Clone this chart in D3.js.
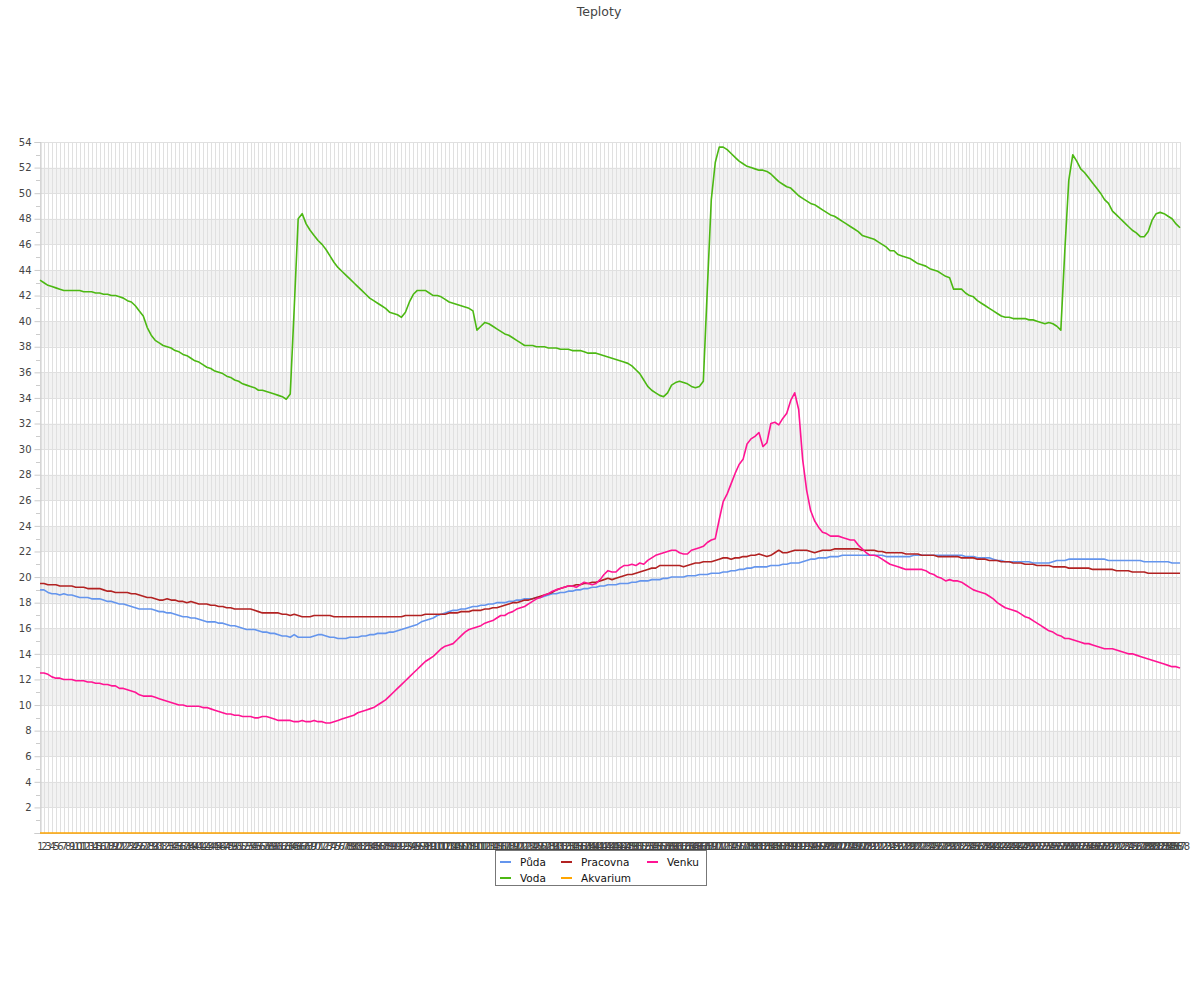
<!DOCTYPE html>
<html>
<head>
<meta charset="utf-8">
<script src="https://cdn.jsdelivr.net/npm/d3@7"></script>
<style>
  html, body { margin: 0; padding: 0; background: #fff; }
  svg { display: block; font-family: "DejaVu Sans", sans-serif; }
</style>
</head>
<body>
<svg id="chart" width="1200" height="1000"></svg>
<script>
// ---------------- DATA ----------------
const title = "Teploty";
const seriesNames = ["Půda", "Voda", "Pracovna", "Akvarium", "Venku"];
const seriesColors = ["#6495ed", "#4cb813", "#b22222", "#ffa500", "#ff1493"];
const yTickValues = [0, 2, 4, 6, 8, 10, 12, 14, 16, 18, 20, 22, 24, 26, 28, 30, 32, 34, 36, 38, 40, 42, 44, 46, 48, 50, 52, 54];
const yMinorTicks = [1, 3, 5, 7, 9, 11, 13, 15, 17, 19, 21, 23, 25, 27, 29, 31, 33, 35, 37, 39, 41, 43, 45, 47, 49, 51, 53];
const yBandStarts = [2, 6, 10, 14, 18, 22, 26, 30, 34, 38, 42, 46, 50];

const puda = [
  19.0, 19.0, 18.8, 18.7, 18.7, 18.6, 18.7, 18.6, 18.6, 18.5,
  18.4, 18.4, 18.4, 18.3, 18.3, 18.3, 18.2, 18.1, 18.1, 18.0,
  17.9, 17.9, 17.8, 17.7, 17.6, 17.5, 17.5, 17.5, 17.5, 17.4,
  17.3, 17.3, 17.2, 17.2, 17.1, 17.0, 16.9, 16.9, 16.8, 16.8,
  16.7, 16.6, 16.5, 16.5, 16.5, 16.4, 16.4, 16.3, 16.2, 16.2,
  16.1, 16.0, 15.9, 15.9, 15.9, 15.8, 15.7, 15.7, 15.6, 15.6,
  15.5, 15.4, 15.4, 15.3, 15.5, 15.3, 15.3, 15.3, 15.3, 15.4,
  15.5, 15.5, 15.4, 15.3, 15.3, 15.2, 15.2, 15.2, 15.3, 15.3,
  15.3, 15.4, 15.4, 15.5, 15.5, 15.6, 15.6, 15.6, 15.7, 15.7,
  15.8, 15.9, 16.0, 16.1, 16.2, 16.3, 16.5, 16.6, 16.7, 16.8,
  17.0, 17.1, 17.2, 17.3, 17.4, 17.4, 17.5, 17.5, 17.6, 17.7,
  17.7, 17.8, 17.8, 17.9, 17.9, 18.0, 18.0, 18.0, 18.1, 18.1,
  18.2, 18.2, 18.3, 18.3, 18.3, 18.4, 18.4, 18.5, 18.6, 18.7,
  18.7, 18.8, 18.8, 18.9, 18.9, 19.0, 19.0, 19.1, 19.1, 19.2,
  19.2, 19.3, 19.3, 19.4, 19.4, 19.4, 19.5, 19.5, 19.5, 19.6,
  19.6, 19.7, 19.7, 19.7, 19.8, 19.8, 19.8, 19.9, 19.9, 20.0,
  20.0, 20.0, 20.0, 20.1, 20.1, 20.1, 20.2, 20.2, 20.2, 20.3,
  20.3, 20.3, 20.4, 20.4, 20.5, 20.5, 20.6, 20.6, 20.7, 20.7,
  20.8, 20.8, 20.8, 20.8, 20.9, 20.9, 20.9, 21.0, 21.0, 21.1,
  21.1, 21.1, 21.2, 21.3, 21.4, 21.4, 21.5, 21.5, 21.5, 21.6,
  21.6, 21.6, 21.7, 21.7, 21.7, 21.7, 21.7, 21.7, 21.7, 21.7,
  21.7, 21.7, 21.7, 21.6, 21.6, 21.6, 21.6, 21.6, 21.6, 21.6,
  21.7, 21.7, 21.7, 21.7, 21.7, 21.7, 21.7, 21.7, 21.7, 21.7,
  21.7, 21.7, 21.7, 21.6, 21.6, 21.6, 21.5, 21.5, 21.5, 21.5,
  21.4, 21.3, 21.3, 21.2, 21.2, 21.2, 21.2, 21.2, 21.2, 21.2,
  21.1, 21.1, 21.1, 21.1, 21.1, 21.2, 21.3, 21.3, 21.3, 21.4,
  21.4, 21.4, 21.4, 21.4, 21.4, 21.4, 21.4, 21.4, 21.4, 21.3,
  21.3, 21.3, 21.3, 21.3, 21.3, 21.3, 21.3, 21.3, 21.2, 21.2,
  21.2, 21.2, 21.2, 21.2, 21.2, 21.1, 21.1, 21.1
];

const voda = [
  43.2, 43.0, 42.8, 42.7, 42.6, 42.5, 42.4, 42.4, 42.4, 42.4,
  42.4, 42.3, 42.3, 42.3, 42.2, 42.2, 42.1, 42.1, 42.0, 42.0,
  41.9, 41.8, 41.6, 41.5, 41.2, 40.8, 40.4, 39.5, 38.9, 38.5,
  38.3, 38.1, 38.0, 37.9, 37.7, 37.6, 37.4, 37.3, 37.1, 36.9,
  36.8, 36.6, 36.4, 36.3, 36.1, 36.0, 35.9, 35.7, 35.6, 35.4,
  35.3, 35.1, 35.0, 34.9, 34.8, 34.6, 34.6, 34.5, 34.4, 34.3,
  34.2, 34.1, 33.9, 34.3, 41.0, 48.0, 48.4, 47.6, 47.1, 46.7,
  46.3, 46.0, 45.6, 45.1, 44.6, 44.2, 43.9, 43.6, 43.3, 43.0,
  42.7, 42.4, 42.1, 41.8, 41.6, 41.4, 41.2, 41.0, 40.7, 40.6,
  40.5, 40.3, 40.7, 41.5, 42.1, 42.4, 42.4, 42.4, 42.2, 42.0,
  42.0, 41.9, 41.7, 41.5, 41.4, 41.3, 41.2, 41.1, 41.0, 40.8,
  39.3, 39.6, 39.9, 39.8, 39.6, 39.4, 39.2, 39.0, 38.9, 38.7,
  38.5, 38.3, 38.1, 38.1, 38.1, 38.0, 38.0, 38.0, 37.9, 37.9,
  37.9, 37.8, 37.8, 37.8, 37.7, 37.7, 37.7, 37.6, 37.5, 37.5,
  37.5, 37.4, 37.3, 37.2, 37.1, 37.0, 36.9, 36.8, 36.7, 36.5,
  36.2, 35.9, 35.4, 34.9, 34.6, 34.4, 34.2, 34.1, 34.4, 35.0,
  35.2, 35.3, 35.2, 35.1, 34.9, 34.8, 34.9, 35.3, 42.5, 49.5,
  52.4, 53.6, 53.6, 53.4, 53.1, 52.8, 52.5, 52.3, 52.1, 52.0,
  51.9, 51.8, 51.8, 51.7, 51.5, 51.2, 50.9, 50.7, 50.5, 50.4,
  50.1, 49.8, 49.6, 49.4, 49.2, 49.1, 48.9, 48.7, 48.5, 48.3,
  48.2, 48.0, 47.8, 47.6, 47.4, 47.2, 47.0, 46.7, 46.6, 46.5,
  46.4, 46.2, 46.0, 45.8, 45.5, 45.5, 45.2, 45.1, 45.0, 44.9,
  44.7, 44.5, 44.4, 44.3, 44.1, 44.0, 43.9, 43.7, 43.5, 43.4,
  42.5, 42.5, 42.5, 42.2, 42.0, 41.9, 41.6, 41.4, 41.2, 41.0,
  40.8, 40.6, 40.4, 40.3, 40.3, 40.2, 40.2, 40.2, 40.2, 40.1,
  40.1, 40.0, 39.9, 39.8, 39.9, 39.8, 39.6, 39.3, 45.5, 51.0,
  53.0, 52.5, 51.9, 51.6, 51.2, 50.8, 50.4, 50.0, 49.5, 49.2,
  48.6, 48.3, 48.0, 47.7, 47.4, 47.1, 46.9, 46.6, 46.6, 47.0,
  47.9, 48.4, 48.5, 48.4, 48.2, 48.0, 47.6, 47.3
];

const pracovna = [
  19.5, 19.5, 19.4, 19.4, 19.4, 19.3, 19.3, 19.3, 19.3, 19.2,
  19.2, 19.2, 19.1, 19.1, 19.1, 19.1, 19.0, 18.9, 18.9, 18.8,
  18.8, 18.8, 18.8, 18.7, 18.7, 18.6, 18.5, 18.4, 18.4, 18.3,
  18.2, 18.2, 18.3, 18.2, 18.2, 18.1, 18.1, 18.0, 18.1, 18.0,
  17.9, 17.9, 17.9, 17.8, 17.8, 17.7, 17.7, 17.6, 17.6, 17.5,
  17.5, 17.5, 17.5, 17.5, 17.4, 17.3, 17.2, 17.2, 17.2, 17.2,
  17.2, 17.1, 17.1, 17.0, 17.1, 17.0, 16.9, 16.9, 16.9, 17.0,
  17.0, 17.0, 17.0, 17.0, 16.9, 16.9, 16.9, 16.9, 16.9, 16.9,
  16.9, 16.9, 16.9, 16.9, 16.9, 16.9, 16.9, 16.9, 16.9, 16.9,
  16.9, 16.9, 17.0, 17.0, 17.0, 17.0, 17.0, 17.1, 17.1, 17.1,
  17.1, 17.1, 17.1, 17.2, 17.2, 17.2, 17.3, 17.3, 17.3, 17.4,
  17.4, 17.4, 17.5, 17.5, 17.6, 17.6, 17.7, 17.8, 17.9, 18.0,
  18.0, 18.1, 18.2, 18.2, 18.3, 18.4, 18.5, 18.6, 18.7, 18.8,
  19.0, 19.1, 19.2, 19.3, 19.3, 19.4, 19.4, 19.5, 19.5, 19.6,
  19.6, 19.7, 19.8, 19.9, 19.8, 19.9, 20.0, 20.1, 20.2, 20.2,
  20.3, 20.4, 20.5, 20.6, 20.7, 20.7, 20.9, 20.9, 20.9, 20.9,
  20.9, 20.9, 20.8, 20.9, 21.0, 21.1, 21.1, 21.2, 21.2, 21.2,
  21.3, 21.4, 21.5, 21.5, 21.4, 21.5, 21.5, 21.6, 21.6, 21.7,
  21.7, 21.8, 21.7, 21.6, 21.7, 21.9, 22.1, 21.9, 21.9, 22.0,
  22.1, 22.1, 22.1, 22.1, 22.0, 21.9, 22.0, 22.1, 22.1, 22.1,
  22.2, 22.2, 22.2, 22.2, 22.2, 22.2, 22.2, 22.1, 22.1, 22.1,
  22.1, 22.0, 22.0, 21.9, 21.9, 21.9, 21.9, 21.9, 21.8, 21.8,
  21.8, 21.8, 21.7, 21.7, 21.7, 21.7, 21.6, 21.6, 21.6, 21.6,
  21.6, 21.6, 21.5, 21.5, 21.5, 21.5, 21.4, 21.4, 21.4, 21.3,
  21.3, 21.3, 21.2, 21.2, 21.2, 21.1, 21.1, 21.1, 21.0, 21.0,
  21.0, 20.9, 20.9, 20.9, 20.9, 20.8, 20.8, 20.8, 20.8, 20.7,
  20.7, 20.7, 20.7, 20.7, 20.7, 20.6, 20.6, 20.6, 20.6, 20.6,
  20.6, 20.5, 20.5, 20.5, 20.5, 20.4, 20.4, 20.4, 20.4, 20.3,
  20.3, 20.3, 20.3, 20.3, 20.3, 20.3, 20.3, 20.3
];

const akvarium = [
  0, 0, 0, 0, 0, 0, 0, 0, 0, 0,  0, 0, 0, 0, 0, 0, 0, 0, 0, 0,
  0, 0, 0, 0, 0, 0, 0, 0, 0, 0,  0, 0, 0, 0, 0, 0, 0, 0, 0, 0,
  0, 0, 0, 0, 0, 0, 0, 0, 0, 0,  0, 0, 0, 0, 0, 0, 0, 0, 0, 0,
  0, 0, 0, 0, 0, 0, 0, 0, 0, 0,  0, 0, 0, 0, 0, 0, 0, 0, 0, 0,
  0, 0, 0, 0, 0, 0, 0, 0, 0, 0,  0, 0, 0, 0, 0, 0, 0, 0, 0, 0,
  0, 0, 0, 0, 0, 0, 0, 0, 0, 0,  0, 0, 0, 0, 0, 0, 0, 0, 0, 0,
  0, 0, 0, 0, 0, 0, 0, 0, 0, 0,  0, 0, 0, 0, 0, 0, 0, 0, 0, 0,
  0, 0, 0, 0, 0, 0, 0, 0, 0, 0,  0, 0, 0, 0, 0, 0, 0, 0, 0, 0,
  0, 0, 0, 0, 0, 0, 0, 0, 0, 0,  0, 0, 0, 0, 0, 0, 0, 0, 0, 0,
  0, 0, 0, 0, 0, 0, 0, 0, 0, 0,  0, 0, 0, 0, 0, 0, 0, 0, 0, 0,
  0, 0, 0, 0, 0, 0, 0, 0, 0, 0,  0, 0, 0, 0, 0, 0, 0, 0, 0, 0,
  0, 0, 0, 0, 0, 0, 0, 0, 0, 0,  0, 0, 0, 0, 0, 0, 0, 0, 0, 0,
  0, 0, 0, 0, 0, 0, 0, 0, 0, 0,  0, 0, 0, 0, 0, 0, 0, 0, 0, 0,
  0, 0, 0, 0, 0, 0, 0, 0, 0, 0,  0, 0, 0, 0, 0, 0, 0, 0, 0, 0,
  0, 0, 0, 0, 0, 0, 0, 0
];

const venku = [
  12.5, 12.5, 12.4, 12.2, 12.1, 12.1, 12.0, 12.0, 12.0, 11.9,
  11.9, 11.9, 11.8, 11.8, 11.7, 11.7, 11.6, 11.6, 11.5, 11.5,
  11.3, 11.3, 11.2, 11.1, 11.0, 10.8, 10.7, 10.7, 10.7, 10.6,
  10.5, 10.4, 10.3, 10.2, 10.1, 10.0, 10.0, 9.9, 9.9, 9.9,
  9.9, 9.8, 9.8, 9.7, 9.6, 9.5, 9.4, 9.3, 9.3, 9.2,
  9.2, 9.1, 9.1, 9.1, 9.0, 9.0, 9.1, 9.1, 9.0, 8.9,
  8.8, 8.8, 8.8, 8.8, 8.7, 8.7, 8.8, 8.7, 8.7, 8.8,
  8.7, 8.7, 8.6, 8.6, 8.7, 8.8, 8.9, 9.0, 9.1, 9.2,
  9.4, 9.5, 9.6, 9.7, 9.8, 10.0, 10.2, 10.4, 10.7, 11.0,
  11.3, 11.6, 11.9, 12.2, 12.5, 12.8, 13.1, 13.4, 13.6, 13.8,
  14.1, 14.4, 14.6, 14.7, 14.8, 15.1, 15.4, 15.7, 15.9, 16.0,
  16.1, 16.2, 16.4, 16.5, 16.6, 16.8, 17.0, 17.0, 17.2, 17.3,
  17.5, 17.6, 17.7, 17.9, 18.1, 18.3, 18.4, 18.6, 18.7, 18.9,
  19.0, 19.1, 19.2, 19.3, 19.3, 19.2, 19.4, 19.6, 19.5, 19.4,
  19.5, 19.8, 20.2, 20.5, 20.4, 20.4, 20.7, 20.9, 20.9, 21.0,
  20.9, 21.1, 21.0, 21.3, 21.5, 21.7, 21.8, 21.9, 22.0, 22.1,
  22.1, 21.9, 21.8, 21.8, 22.1, 22.2, 22.3, 22.4, 22.7, 22.9,
  23.0, 24.5, 25.9, 26.5, 27.3, 28.1, 28.8, 29.2, 30.4, 30.8,
  31.0, 31.3, 30.2, 30.5, 32.0, 32.1, 31.9, 32.4, 32.8, 33.8,
  34.4, 33.1, 29.2, 26.8, 25.2, 24.4, 23.9, 23.5, 23.4, 23.2,
  23.2, 23.2, 23.1, 23.0, 22.9, 22.9, 22.5, 22.2, 21.9, 21.7,
  21.7, 21.6, 21.4, 21.2, 21.0, 20.9, 20.8, 20.7, 20.6, 20.6,
  20.6, 20.6, 20.6, 20.5, 20.3, 20.2, 20.0, 19.9, 19.7, 19.8,
  19.7, 19.7, 19.6, 19.4, 19.2, 19.0, 18.9, 18.8, 18.7, 18.5,
  18.3, 18.0, 17.8, 17.6, 17.5, 17.4, 17.3, 17.1, 16.9, 16.8,
  16.6, 16.4, 16.2, 16.0, 15.8, 15.7, 15.5, 15.4, 15.2, 15.2,
  15.1, 15.0, 14.9, 14.8, 14.8, 14.7, 14.6, 14.5, 14.4, 14.4,
  14.4, 14.3, 14.2, 14.1, 14.0, 14.0, 13.9, 13.8, 13.7, 13.6,
  13.5, 13.4, 13.3, 13.2, 13.1, 13.0, 13.0, 12.9
];

// categories 1..N (one label per sample)
const categories = puda.map((_, i) => String(i + 1));
const seriesValues = [puda, voda, pracovna, akvarium, venku];

// ---------------- LAYOUT ----------------
const svg = d3.select("#chart");
const plotLeft = 40, plotRight = 1180, plotTop = 142, plotBottom = 833;
const gridColor = "#e0e0e0";
const textColor = "#444";

const x = d3.scalePoint().domain(categories).range([plotLeft, plotRight]);
const y = d3.scaleLinear().domain([0, 54]).range([plotBottom, plotTop]);

svg.append("rect").attr("width", 1200).attr("height", 1000).attr("fill", "#fff");

// title
svg.append("text").attr("x", 599).attr("y", 15.5).attr("text-anchor", "middle")
  .attr("font-size", "12.5px").attr("fill", textColor).text(title);

// alternating bands
svg.append("g").selectAll("rect").data(yBandStarts).join("rect")
  .attr("x", plotLeft).attr("width", plotRight - plotLeft)
  .attr("y", d => y(d + 2)).attr("height", d => y(d) - y(d + 2))
  .attr("fill", "#f2f2f2");

// vertical gridlines
svg.append("g").selectAll("line").data(categories).join("line")
  .attr("x1", d => Math.round(x(d)) + 0.5).attr("x2", d => Math.round(x(d)) + 0.5)
  .attr("y1", plotTop).attr("y2", plotBottom)
  .attr("stroke", gridColor).attr("stroke-width", 1);

// horizontal gridlines
svg.append("g").selectAll("line").data(yTickValues).join("line")
  .attr("x1", plotLeft).attr("x2", plotRight)
  .attr("y1", d => Math.round(y(d)) + 0.5).attr("y2", d => Math.round(y(d)) + 0.5)
  .attr("stroke", gridColor).attr("stroke-width", 1);

// y axis
const yAxis = d3.axisLeft(y).tickValues(yTickValues).tickSize(6).tickPadding(3)
  .tickFormat(d => d === 0 ? "" : String(d));
const gy = svg.append("g").attr("transform", `translate(${plotLeft + 0.5},0)`).call(yAxis);
gy.select(".domain").attr("stroke", "#ccc");
gy.selectAll(".tick line").attr("stroke", "#ccc");
gy.selectAll("text").attr("font-size", "10px").attr("fill", textColor)
  .attr("font-family", "DejaVu Sans, sans-serif");
// minor ticks
svg.append("g").selectAll("line").data(yMinorTicks).join("line")
  .attr("x1", plotLeft - 4).attr("x2", plotLeft)
  .attr("y1", d => Math.round(y(d)) + 0.5).attr("y2", d => Math.round(y(d)) + 0.5)
  .attr("stroke", "#ccc");

// x axis labels (all categories, overlapping like the original)
const xAxis = d3.axisBottom(x).tickSize(0).tickPadding(10);
const gx = svg.append("g").attr("transform", `translate(0,${plotBottom})`).call(xAxis);
gx.select(".domain").attr("stroke", "#ccc");
gx.selectAll("text").attr("font-size", "10px").attr("fill", textColor)
  .attr("font-family", "DejaVu Sans, sans-serif");

// lines
const lineGen = d3.line().x((d, i) => x(categories[i])).y(d => y(d));
svg.append("g").selectAll("path").data(seriesValues).join("path")
  .attr("d", d => lineGen(d))
  .attr("fill", "none")
  .attr("stroke", (d, i) => seriesColors[i])
  .attr("stroke-width", 1.6)
  .attr("stroke-linejoin", "round");

// legend
const legendOrder = [0, 2, 4, 1, 3]; // row-major as in the original
const legCols = [500, 561, 647];
const legRows = [862, 878];
const lg = svg.append("g");
lg.append("rect").attr("x", 495.5).attr("y", 850.5).attr("width", 211).attr("height", 35)
  .attr("fill", "#fff").attr("stroke", "#777");
legendOrder.forEach((si, k) => {
  const cx = legCols[k % 3], cy = legRows[Math.floor(k / 3)];
  lg.append("line").attr("x1", cx).attr("x2", cx + 11).attr("y1", cy).attr("y2", cy)
    .attr("stroke", seriesColors[si]).attr("stroke-width", 2);
  lg.append("text").attr("x", cx + 20).attr("y", cy + 3.5)
    .attr("font-size", "10.5px").attr("fill", "#111").text(seriesNames[si]);
});
</script>
</body>
</html>
